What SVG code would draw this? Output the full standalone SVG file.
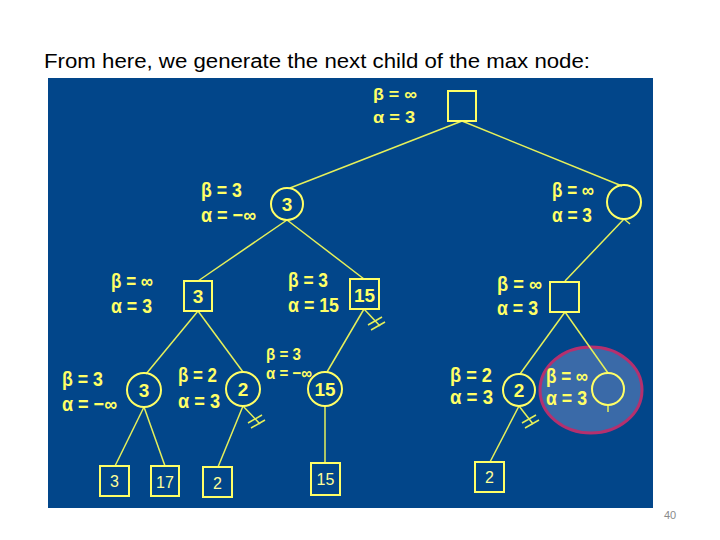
<svg xmlns="http://www.w3.org/2000/svg" width="720" height="540" viewBox="0 0 720 540">
<defs>
<style>
.lbl{font-family:"Liberation Sans",sans-serif;font-weight:bold;fill:#ffff66;font-size:20px}
.lbls{font-size:17px}
.num{font-family:"Liberation Sans",sans-serif;font-weight:bold;fill:#ffff66;font-size:19px;text-anchor:middle}
.leaf{font-family:"Liberation Sans",sans-serif;fill:#ffff99;font-size:16px;text-anchor:middle}
.node{fill:none;stroke:#ffff66;stroke-width:2}
.edge{stroke:#e6f05a;stroke-width:1.5;fill:none}
</style>
<g id="cut">
<line x1="-8" y1="3" x2="6" y2="-5" stroke="#e6f05a" stroke-width="1.5"/>
<line x1="-5" y1="8" x2="9" y2="0" stroke="#e6f05a" stroke-width="1.5"/>
</g>
</defs>
<rect x="0" y="0" width="720" height="540" fill="#ffffff"/>
<text x="44" y="68" font-family="Liberation Sans,sans-serif" font-size="20" fill="#000000" textLength="546" lengthAdjust="spacingAndGlyphs">From here, we generate the next child of the max node:</text>
<rect x="48" y="78" width="605" height="430" fill="#02468a"/>
<ellipse id="highlight" cx="591" cy="390" rx="51" ry="43" fill="#3a6aa8" stroke="#b5306e" stroke-width="3"/>
<g id="connectors" class="edge">
<line x1="462" y1="121" x2="290" y2="188"/>
<line x1="462" y1="121" x2="622" y2="186"/>
<line x1="287" y1="220" x2="198" y2="281"/>
<line x1="287" y1="220" x2="364" y2="279"/>
<line x1="624" y1="219" x2="565" y2="281"/>
<line x1="624" y1="219" x2="630" y2="224"/>
<line x1="198" y1="311" x2="146" y2="374"/>
<line x1="198" y1="311" x2="243" y2="372"/>
<line x1="364" y1="309" x2="327" y2="372"/>
<line x1="364" y1="309" x2="380" y2="326"/>
<line x1="565" y1="312" x2="520" y2="374"/>
<line x1="565" y1="312" x2="608" y2="373"/>
<line x1="144" y1="407" x2="115" y2="466"/>
<line x1="144" y1="407" x2="165" y2="466"/>
<line x1="243" y1="406" x2="218" y2="467"/>
<line x1="243" y1="406" x2="260" y2="424"/>
<line x1="325" y1="406" x2="325" y2="463"/>
<line x1="519" y1="406" x2="490" y2="462"/>
<line x1="519" y1="406" x2="533" y2="424"/>
<line x1="608" y1="405" x2="608" y2="412"/>
<use href="#cut" x="376" y="322"/>
<use href="#cut" x="256" y="420"/>
<use href="#cut" x="530" y="420"/>
</g>
<g id="root">
<rect class="node" x="448" y="91" width="28" height="30"/>
<text class="lbl lbls" x="373" y="100" textLength="44" lengthAdjust="spacingAndGlyphs">β = ∞</text>
<text class="lbl lbls" x="373" y="123" textLength="42" lengthAdjust="spacingAndGlyphs">α = 3</text>
</g>
<g id="min-left">
<circle class="node" cx="287" cy="204" r="16"/>
<text class="num" x="287" y="211">3</text>
<text class="lbl" x="201" y="197" textLength="41" lengthAdjust="spacingAndGlyphs">β = 3</text>
<text class="lbl" x="201" y="222" textLength="55" lengthAdjust="spacingAndGlyphs">α = −∞</text>
</g>
<g id="min-right">
<circle class="node" cx="624" cy="202" r="17"/>
<text class="lbl" x="552" y="197" textLength="42" lengthAdjust="spacingAndGlyphs">β = ∞</text>
<text class="lbl" x="552" y="222" textLength="40" lengthAdjust="spacingAndGlyphs">α = 3</text>
</g>
<g id="max-3">
<rect class="node" x="184" y="281" width="28" height="30"/>
<text class="num" x="198" y="303">3</text>
<text class="lbl" x="111" y="288" textLength="42" lengthAdjust="spacingAndGlyphs">β = ∞</text>
<text class="lbl" x="111" y="313" textLength="41" lengthAdjust="spacingAndGlyphs">α = 3</text>
</g>
<g id="max-15">
<rect class="node" x="350" y="279" width="29" height="30"/>
<text class="num" x="364.5" y="302" textLength="21" lengthAdjust="spacingAndGlyphs">15</text>
<text class="lbl" x="288" y="287" textLength="40" lengthAdjust="spacingAndGlyphs">β = 3</text>
<text class="lbl" x="288" y="312" textLength="51" lengthAdjust="spacingAndGlyphs">α = 15</text>
</g>
<g id="max-right">
<rect class="node" x="550" y="282" width="29" height="30"/>
<text class="lbl" x="497" y="291" textLength="45" lengthAdjust="spacingAndGlyphs">β = ∞</text>
<text class="lbl" x="497" y="315" textLength="41" lengthAdjust="spacingAndGlyphs">α = 3</text>
</g>
<g id="min-3">
<circle class="node" cx="144" cy="390" r="17"/>
<text class="num" x="144" y="397">3</text>
<text class="lbl" x="62" y="386" textLength="41" lengthAdjust="spacingAndGlyphs">β = 3</text>
<text class="lbl" x="62" y="411" textLength="55" lengthAdjust="spacingAndGlyphs">α = −∞</text>
</g>
<g id="min-2">
<circle class="node" cx="243" cy="389" r="17"/>
<text class="num" x="243" y="396">2</text>
<text class="lbl" x="178" y="382" textLength="39" lengthAdjust="spacingAndGlyphs">β = 2</text>
<text class="lbl" x="178" y="408" textLength="42" lengthAdjust="spacingAndGlyphs">α = 3</text>
</g>
<g id="min-15">
<circle class="node" cx="325" cy="389" r="17"/>
<text class="num" x="325" y="396" textLength="21" lengthAdjust="spacingAndGlyphs">15</text>
<text class="lbl lbls" x="266" y="360" textLength="35" lengthAdjust="spacingAndGlyphs">β = 3</text>
<text class="lbl lbls" x="266" y="379" textLength="46" lengthAdjust="spacingAndGlyphs">α = −∞</text>
</g>
<g id="min-right-2">
<circle class="node" cx="519" cy="390" r="16"/>
<text class="num" x="519" y="397">2</text>
<text class="lbl" x="450" y="382" textLength="42" lengthAdjust="spacingAndGlyphs">β = 2</text>
<text class="lbl" x="450" y="404" textLength="43" lengthAdjust="spacingAndGlyphs">α = 3</text>
</g>
<g id="min-new">
<circle class="node" cx="608" cy="389" r="16"/>
<text class="lbl" x="546" y="383" textLength="42" lengthAdjust="spacingAndGlyphs">β = ∞</text>
<text class="lbl" x="546" y="405" textLength="41" lengthAdjust="spacingAndGlyphs">α = 3</text>
</g>
<g id="leaf-3">
<rect class="node" x="100" y="466" width="29" height="30" stroke-width="1.5"/>
<text class="leaf" x="114.5" y="487">3</text>
</g>
<g id="leaf-17">
<rect class="node" x="151" y="466" width="28" height="30" stroke-width="1.5"/>
<text class="leaf" x="165" y="488">17</text>
</g>
<g id="leaf-2">
<rect class="node" x="203" y="467" width="29" height="30" stroke-width="1.5"/>
<text class="leaf" x="217.5" y="489">2</text>
</g>
<g id="leaf-15">
<rect class="node" x="311" y="463" width="29" height="32"/>
<text class="leaf" x="325.5" y="485">15</text>
</g>
<g id="leaf-2b">
<rect class="node" x="475" y="462" width="29" height="30" stroke-width="1.5"/>
<text class="leaf" x="489.5" y="483">2</text>
</g>
<text x="670" y="519" font-family="Liberation Sans,sans-serif" font-size="11" fill="#8a8a8a" text-anchor="middle">40</text>
</svg>
